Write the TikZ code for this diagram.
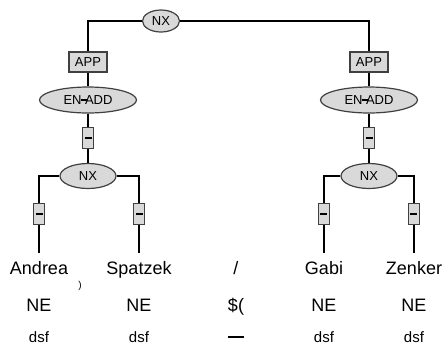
\documentclass[tikz,border=0pt]{standalone}
\usepackage{fontspec}
\setmainfont{Liberation Sans}
\usetikzlibrary{shapes.geometric}
\definecolor{nodegray}{gray}{0.85}
\definecolor{rimgray}{gray}{0.25}
\newcommand{\bardash}{\rule[1.9pt]{3pt}{0.8pt}}
\tikzset{
  cat/.style={draw=rimgray, ellipse, fill=nodegray, line width=0.6pt, inner sep=0pt,
    font=\fontsize{6.5}{6.5}\selectfont, minimum height=#1},
  cat/.default=12.5pt,
  fn/.style={draw=rimgray, rectangle, fill=nodegray, line width=0.8pt, inner sep=0pt,
    font=\fontsize{6.5}{6.5}\selectfont, minimum height=10pt},
  tickbox/.style={draw=rimgray, rectangle, fill=nodegray, line width=0.5pt, inner sep=0pt,
    minimum width=5.5pt, minimum height=10.5pt},
  word/.style={anchor=base, inner sep=0pt, font=\fontsize{9}{9}\selectfont},
  postag/.style={anchor=base, inner sep=0pt, font=\fontsize{9}{9}\selectfont},
  morph/.style={anchor=base, inner sep=0pt, font=\fontsize{7.5}{7.5}\selectfont},
  link/.style={line width=0.55pt},
}

\begin{document}
\begin{tikzpicture}[x=0.5pt, y=-0.5pt]
    \useasboundingbox (0,0) rectangle (446,345);
    % root
    \node[cat=11pt, minimum width=18.5pt] (nxtop) at (161,21) {NX};
    % left branch
    \node[fn, minimum width=19pt] (appl) at (88,62) {APP};
    \node[cat=13pt, minimum width=48.5pt] (enaddl) at (88,100) {EN\kern-0.5pt\bardash\kern-0.8pt ADD};
    \node[tickbox] (tl) at (88,138) {\rule{3.5pt}{1pt}};
    \node[cat, minimum width=28pt] (nxl) at (88,176) {NX};
    \node[tickbox] (tl1) at (39,214) {\rule{3.5pt}{1pt}};
    \node[tickbox] (tl2) at (139,214) {\rule{3.5pt}{1pt}};
    % right branch
    \node[fn, minimum width=19pt] (appr) at (369,62) {APP};
    \node[cat=13pt, minimum width=48.5pt] (enaddr) at (369,100) {EN\kern-0.5pt\bardash\kern-0.8pt ADD};
    \node[tickbox] (tr) at (369,138) {\rule{3.5pt}{1pt}};
    \node[cat, minimum width=28pt] (nxr) at (369,176) {NX};
    \node[tickbox] (tr1) at (324,214) {\rule{3.5pt}{1pt}};
    \node[tickbox] (tr2) at (414,214) {\rule{3.5pt}{1pt}};
    % terminals
    \node[word] (w1) at (39,274) {Andrea};
    \node[word] (w2) at (139,274) {Spatzek};
    \node[word] (w3) at (236,274) {/};
    \node[word] (w4) at (324,274) {Gabi};
    \node[word] (w5) at (414,274) {Zenker};
    \node[anchor=base, inner sep=0pt, font=\fontsize{5}{5}\selectfont] (wc) at (80,288) {)};
    \coordinate (e1) at (39,253);
    \coordinate (e2) at (139,253);
    \coordinate (e4) at (324,253);
    \coordinate (e5) at (414,253);
    \node[postag] (p1) at (39,311) {NE};
    \node[postag] (p2) at (139,311) {NE};
    \node[postag] (p3) at (236,311) {\$(};
    \node[postag] (p4) at (324,311) {NE};
    \node[postag] (p5) at (414,311) {NE};
    \node[morph] (m1) at (39,342) {dsf};
    \node[morph] (m2) at (139,342) {dsf};
    \node[morph] (m3) at (236,342) {\rule[2pt]{8pt}{1pt}};
    \node[morph] (m4) at (324,342) {dsf};
    \node[morph] (m5) at (414,342) {dsf};
    % edges
    \draw[link] (nxtop) -| (appl);
    \draw[link] (nxtop) -| (appr);
    \draw[link] (appl) -- (enaddl);
    \draw[link] (enaddl) -- (tl);
    \draw[link] (tl) -- (nxl);
    \draw[link] (appr) -- (enaddr);
    \draw[link] (enaddr) -- (tr);
    \draw[link] (tr) -- (nxr);
    \draw[link] (nxl) -| (tl1);
    \draw[link] (nxl) -| (tl2);
    \draw[link] (nxr) -| (tr1);
    \draw[link] (nxr) -| (tr2);
    \draw[link] (tl1) -- (e1);
    \draw[link] (tl2) -- (e2);
    \draw[link] (tr1) -- (e4);
    \draw[link] (tr2) -- (e5);
  \end{tikzpicture}
\end{document}
